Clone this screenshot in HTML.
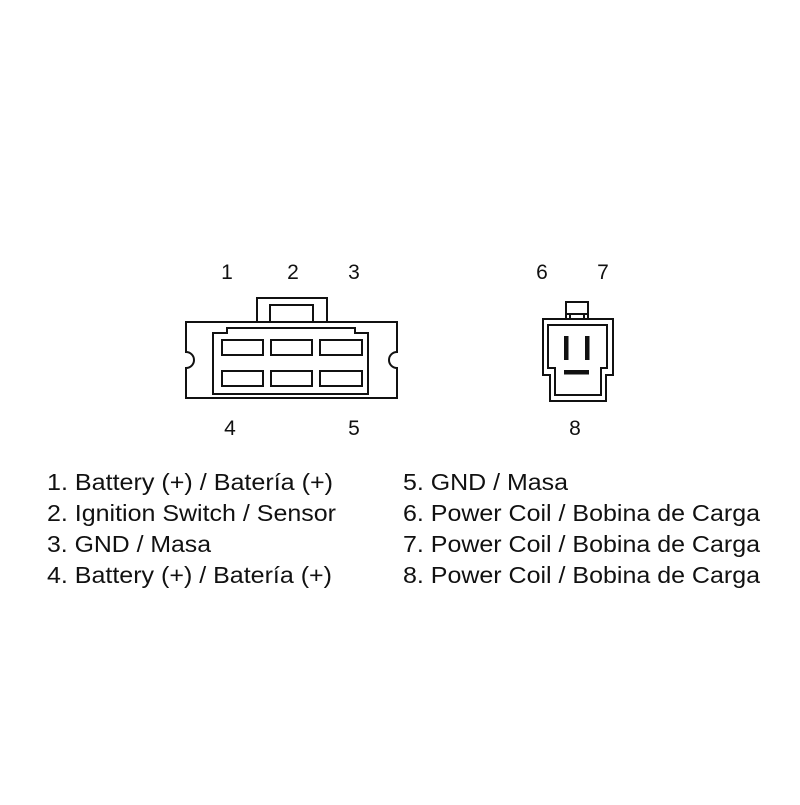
<!DOCTYPE html>
<html><head><style>html,body{margin:0;padding:0;background:#fff}</style></head><body>
<svg width="800" height="800" viewBox="0 0 800 800" xmlns="http://www.w3.org/2000/svg" font-family="Liberation Sans, Arial, sans-serif" fill="#111">
<g fill="none" stroke="#111" stroke-width="2">
<rect x="257" y="298" width="70" height="24"/>
<path d="M270 322 V305 H313 V322"/>
<path d="M186 322 H397 V352 A8 8 0 0 0 397 368 V398 H186 V368 A8 8 0 0 0 186 352 Z" fill="#fff"/>
<path d="M213 394 V333 H227 V328 H355 V333 H368 V394 Z"/>
<rect x="222" y="340" width="41" height="15"/>
<rect x="271" y="340" width="41" height="15"/>
<rect x="320" y="340" width="42" height="15"/>
<rect x="222" y="371" width="41" height="15"/>
<rect x="271" y="371" width="41" height="15"/>
<rect x="320" y="371" width="42" height="15"/>
<rect x="566" y="302" width="22" height="17"/>
<path d="M570 314 V320 M584 314 V320"/>
<path d="M543 319 H613 V375 H606 V401 H550 V375 H543 Z"/>
<path d="M566 319 V314 H588 V319"/>
<path d="M548 325 H607 V368 H601 V395 H555 V368 H548 Z"/>
</g>
<rect x="564" y="336" width="4.5" height="24"/>
<rect x="585" y="336" width="4.5" height="24"/>
<rect x="564" y="370" width="25" height="4.5"/>
<g font-size="21" text-anchor="middle">
<text x="227" y="279">1</text><text x="293" y="279">2</text><text x="354" y="279">3</text>
<text x="230" y="435">4</text><text x="354" y="435">5</text>
<text x="542" y="279">6</text><text x="603" y="279">7</text><text x="575" y="435">8</text>
</g>
<g font-size="23.5">
<text x="47" y="490" textLength="286" lengthAdjust="spacingAndGlyphs">1. Battery (+) / Batería (+)</text>
<text x="47" y="521" textLength="289" lengthAdjust="spacingAndGlyphs">2. Ignition Switch / Sensor</text>
<text x="47" y="552" textLength="164" lengthAdjust="spacingAndGlyphs">3. GND / Masa</text>
<text x="47" y="583" textLength="285" lengthAdjust="spacingAndGlyphs">4. Battery (+) / Batería (+)</text>
<text x="403" y="490" textLength="165" lengthAdjust="spacingAndGlyphs">5. GND / Masa</text>
<text x="403" y="521" textLength="357" lengthAdjust="spacingAndGlyphs">6. Power Coil / Bobina de Carga</text>
<text x="403" y="552" textLength="357" lengthAdjust="spacingAndGlyphs">7. Power Coil / Bobina de Carga</text>
<text x="403" y="583" textLength="357" lengthAdjust="spacingAndGlyphs">8. Power Coil / Bobina de Carga</text>
</g>
</svg>
</body></html>
